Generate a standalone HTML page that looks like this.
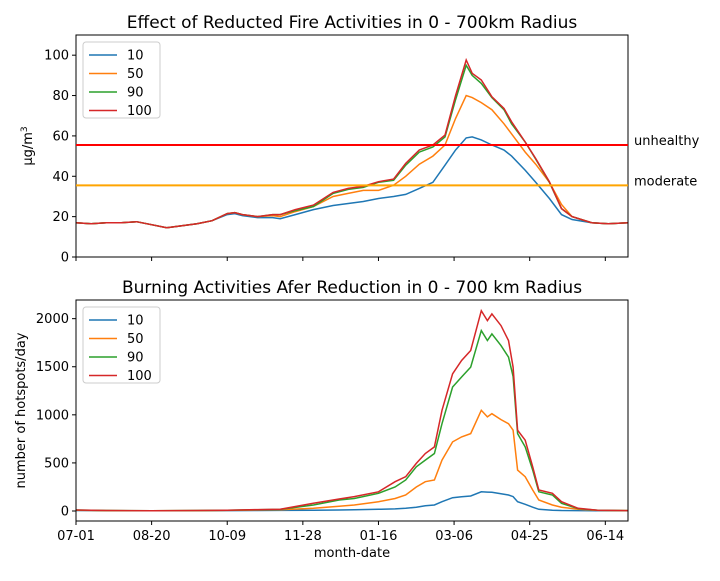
<!DOCTYPE html>
<html><head><meta charset="utf-8"><style>
body{margin:0;background:#fff;}
svg text{font-family:"DejaVu Sans","Liberation Sans",sans-serif;fill:#000;}
</style></head><body>
<svg id="chart" width="720" height="576" xmlns="http://www.w3.org/2000/svg"></svg>
<script>
const xTickLabels=["07-01","08-20","10-09","11-28","01-16","03-06","04-25","06-14"];
const xTickDays=[0,50,100,150,200,250,300,350];
const seriesNames=["10","50","90","100"];
const topDays=[0,10,20,30,40,50,60,65,70,80,90,100,105,110,120,130,135,145,157,170,180,190,200,210,218,227,236,244,251,258,262,268,275,283,288,297,304,313,321,328,341,352,365];
const top10=[17,16.5,17,17,17.5,16,14.5,15,15.5,16.5,18,21,21.5,20.5,19.5,19.5,19,21,23.5,25.5,26.5,27.5,29,30,31,34,37,45.5,53,59,59.5,58,55.5,53,50,43,37,29,21,18.6,17,16.5,17];
const top50=[17,16.5,17,17,17.5,16,14.5,15,15.5,16.5,18,21.5,22,21,20,20.5,20,22.5,25,30,31.5,33,33,35.6,40,46,50,55.5,68.7,80,79,76.5,73,66,61,52,46,37,26,20,17,16.5,17];
const top90=[17,16.5,17,17,17.5,16,14.5,15,15.5,16.5,18,21.5,22,21,20,21,21,23,25,31.5,33.5,34.5,37,38,45.5,52,54.5,59.5,78,95,90,86,79,73,66,57,48.5,37,24,20,17,16.5,17];
const top100=[17,16.5,17,17,17.5,16,14.5,15,15.5,16.5,18,21.5,22,21,20,21,21,23.5,25.7,32,34,35,37.3,38.6,46.4,53,55.5,60.4,80,97.6,91,87.7,79.4,73.6,67,57,48.8,37.3,24,20,17,16.5,17];
const topYTicks=[0,20,40,60,80,100];
const thresholds=[55.5,35.5];
const thresholdLabels=["unhealthy","moderate"];
const botDays=[0,20,50,80,100,120,135,157,174,184,200,211,218,225,231,237,242,249,255,261,268,272,275,281,286,289,292,297,302,306,315,321,332,345,365];
const bot10=[5,3,2,3,4,5,6,8,10,12,18,22,28,40,55,62,97,138,148,156,200,196,194,180,166,150,97,70,40,18,8,5,4,3,3];
const bot50=[8,4,2,4,6,10,12,28,50,62,97,130,166,250,305,322,529,719,771,805,1047,978,1012,950,908,840,425,357,218,114,62,40,18,6,4];
const bot90=[10,5,3,5,8,14,17,62,114,130,184,250,322,460,529,598,908,1289,1393,1496,1876,1773,1842,1720,1600,1400,805,667,425,200,166,80,25,7,4];
const bot100=[10,5,3,5,8,15,18,80,125,150,200,305,357,495,598,667,1047,1427,1565,1669,2083,1980,2049,1928,1773,1496,840,736,460,218,184,97,28,8,4];
const botYTicks=[0,500,1000,1500,2000];
const colors=["#1f77b4","#ff7f0e","#2ca02c","#d62728"];
const NS="http://www.w3.org/2000/svg";
const svgEl=document.getElementById("chart");
function mk(tag,attrs,parent){const e=document.createElementNS(NS,tag);for(const k in attrs)e.setAttribute(k,attrs[k]);(parent||svgEl).appendChild(e);return e;}
const X0=76,X1=628;
const xs=d=>X0+(d/365)*(X1-X0);
function panel(name,y0,y1,ymin,ymax,days,series,yTicks,title,ylab,showX){
  const g=mk("g",{});
  
  
  const ys=v=>y1-(v-ymin)/(ymax-ymin)*(y1-y0);
  const t=mk("text",{x:352,y:y0-7,"text-anchor":"middle","font-size":"17"},g);t.textContent=title;
  
  
  series.forEach((s,i)=>{
    const p=mk("polyline",{points:s.map((v,j)=>xs(days[j]).toFixed(1)+","+ys(v).toFixed(1)).join(" "),fill:"none",stroke:colors[i],"stroke-width":"1.5"},g);
    
    
  });
  yTicks.forEach(v=>{
    const y=ys(v);
    mk("line",{x1:X0-4,x2:X0,y1:y,y2:y,stroke:"#000"},g);
    const tt=mk("text",{x:X0-7,y:y+4.5,"text-anchor":"end","font-size":"13"},g);tt.textContent=v;
    
    
  });
  xTickDays.forEach((d,i)=>{
    mk("line",{x1:xs(d),x2:xs(d),y1:y1,y2:y1+4,stroke:"#000"},g);
    if(showX){const tt=mk("text",{x:xs(d),y:y1+19,"text-anchor":"middle","font-size":"13"},g);tt.textContent=xTickLabels[i];
      
      }
  });
  const fr=mk("rect",{x:X0,y:y0,width:X1-X0,height:y1-y0,fill:"none",stroke:"#000","stroke-width":"1"},g);
  
  
  const yl=mk("text",{x:0,y:0,"text-anchor":"middle","font-size":"13",transform:`translate(${ylab.x},${(y0+y1)/2}) rotate(-90)`},g);
  yl.innerHTML=ylab.html;
  
  
  const lg=mk("g",{},g);
  
  
  mk("rect",{x:83,y:y0+7,width:77,height:76,rx:3,fill:"#fff",stroke:"#ccc"},lg);
  seriesNames.forEach((n,i)=>{
    const yy=y0+20+i*18.5;
    mk("line",{x1:89,x2:117,y1:yy,y2:yy,stroke:colors[i],"stroke-width":"1.5"},lg);
    const lt=mk("text",{x:127,y:yy+4.5,"font-size":"13"},lg);lt.textContent=n;
    
    
  });
  return {ys,g};
}
const topPanel=panel("top-panel",35,257,0,110,topDays,[top10,top50,top90,top100],topYTicks,"Effect of Reducted Fire Activities in 0 - 700km Radius",{x:32,html:'μg/m<tspan dy="-5" font-size="9">3</tspan>'},false);
thresholds.forEach((v,i)=>{
  const y=topPanel.ys(v);
  const l=mk("line",{x1:X0,x2:X1,y1:y,y2:y,stroke:i==0?"#ff0000":"#ffa500","stroke-width":"2"});
  
  
  const t=mk("text",{x:634,y:y,"font-size":"13"});t.textContent=thresholdLabels[i];
  
  
});
panel("bottom-panel",300,521,-104,2194,botDays,[bot10,bot50,bot90,bot100],botYTicks,"Burning Activities Afer Reduction in 0 - 700 km Radius",{x:25,html:'number of hotspots/day'},true);
const xl=mk("text",{x:352,y:557,"text-anchor":"middle","font-size":"13"});xl.textContent="month-date";


</script>
</body></html>
